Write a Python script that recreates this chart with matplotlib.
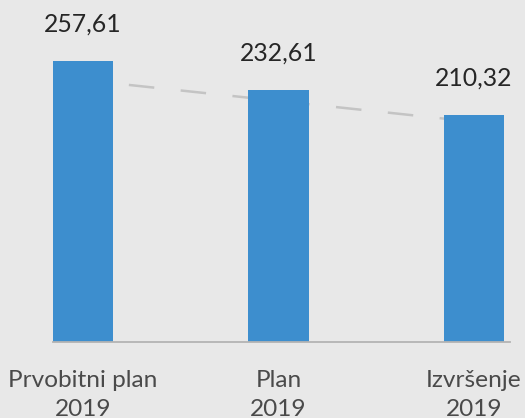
import matplotlib
matplotlib.use("Agg")
import matplotlib.pyplot as plt

categories = ["Prvobitni plan\n2019", "Plan\n2019", "Izvršenje\n2019"]
values = [257.61, 232.61, 210.32]
labels = ["257,61", "232,61", "210,32"]
trend = [241.0, 222.7, 204.4]

plt.rcParams['font.family'] = ['Lato', 'DejaVu Sans']
plt.rcParams['lines.scale_dashes'] = False

W, H = 525, 418
dpi = 100
fig = plt.figure(figsize=(W / dpi, H / dpi), dpi=dpi, facecolor='#e8e8e8')

left_px, right_px, bottom_px, top_px = 53, 510, 342, 20
ax = fig.add_axes([left_px / W, (H - bottom_px) / H,
                   (right_px - left_px) / W, (bottom_px - top_px) / H])
ax.set_facecolor('#e8e8e8')

x = list(range(len(values)))
bw = 0.307
ymin = 11.6
scale = 1.142  # px per unit
ax.set_ylim(ymin, ymin + (bottom_px - top_px) / scale)
ax.set_xlim(-bw / 2, (right_px - 83) / 195.5)

ax.plot(x, trend, color='#c4c4c4', lw=1.8, linestyle=(4.3, (18.4, 19.1)),
        dash_capstyle='butt', zorder=1)
ax.bar(x, values, width=bw, color='#3d8ece', zorder=2)

for xi, v, lab in zip(x, values, labels):
    ax.annotate(lab, (xi, v), xytext=(0, 29), textcoords='offset pixels',
                ha='center', va='baseline', fontsize=17.8, color='#262626',
                annotation_clip=False)

for s in ['top', 'right', 'left']:
    ax.spines[s].set_visible(False)
ax.spines['bottom'].set_color('#b3b3b3')
ax.spines['bottom'].set_linewidth(1.3)
ax.set_yticks([])
ax.set_xticks(x)
ax.set_xticklabels(categories, fontsize=17.6, color='#4a4a4a', linespacing=1.5)
ax.tick_params(axis='x', length=0, pad=20)

fig.savefig('out.png', dpi=dpi, facecolor=fig.get_facecolor())
